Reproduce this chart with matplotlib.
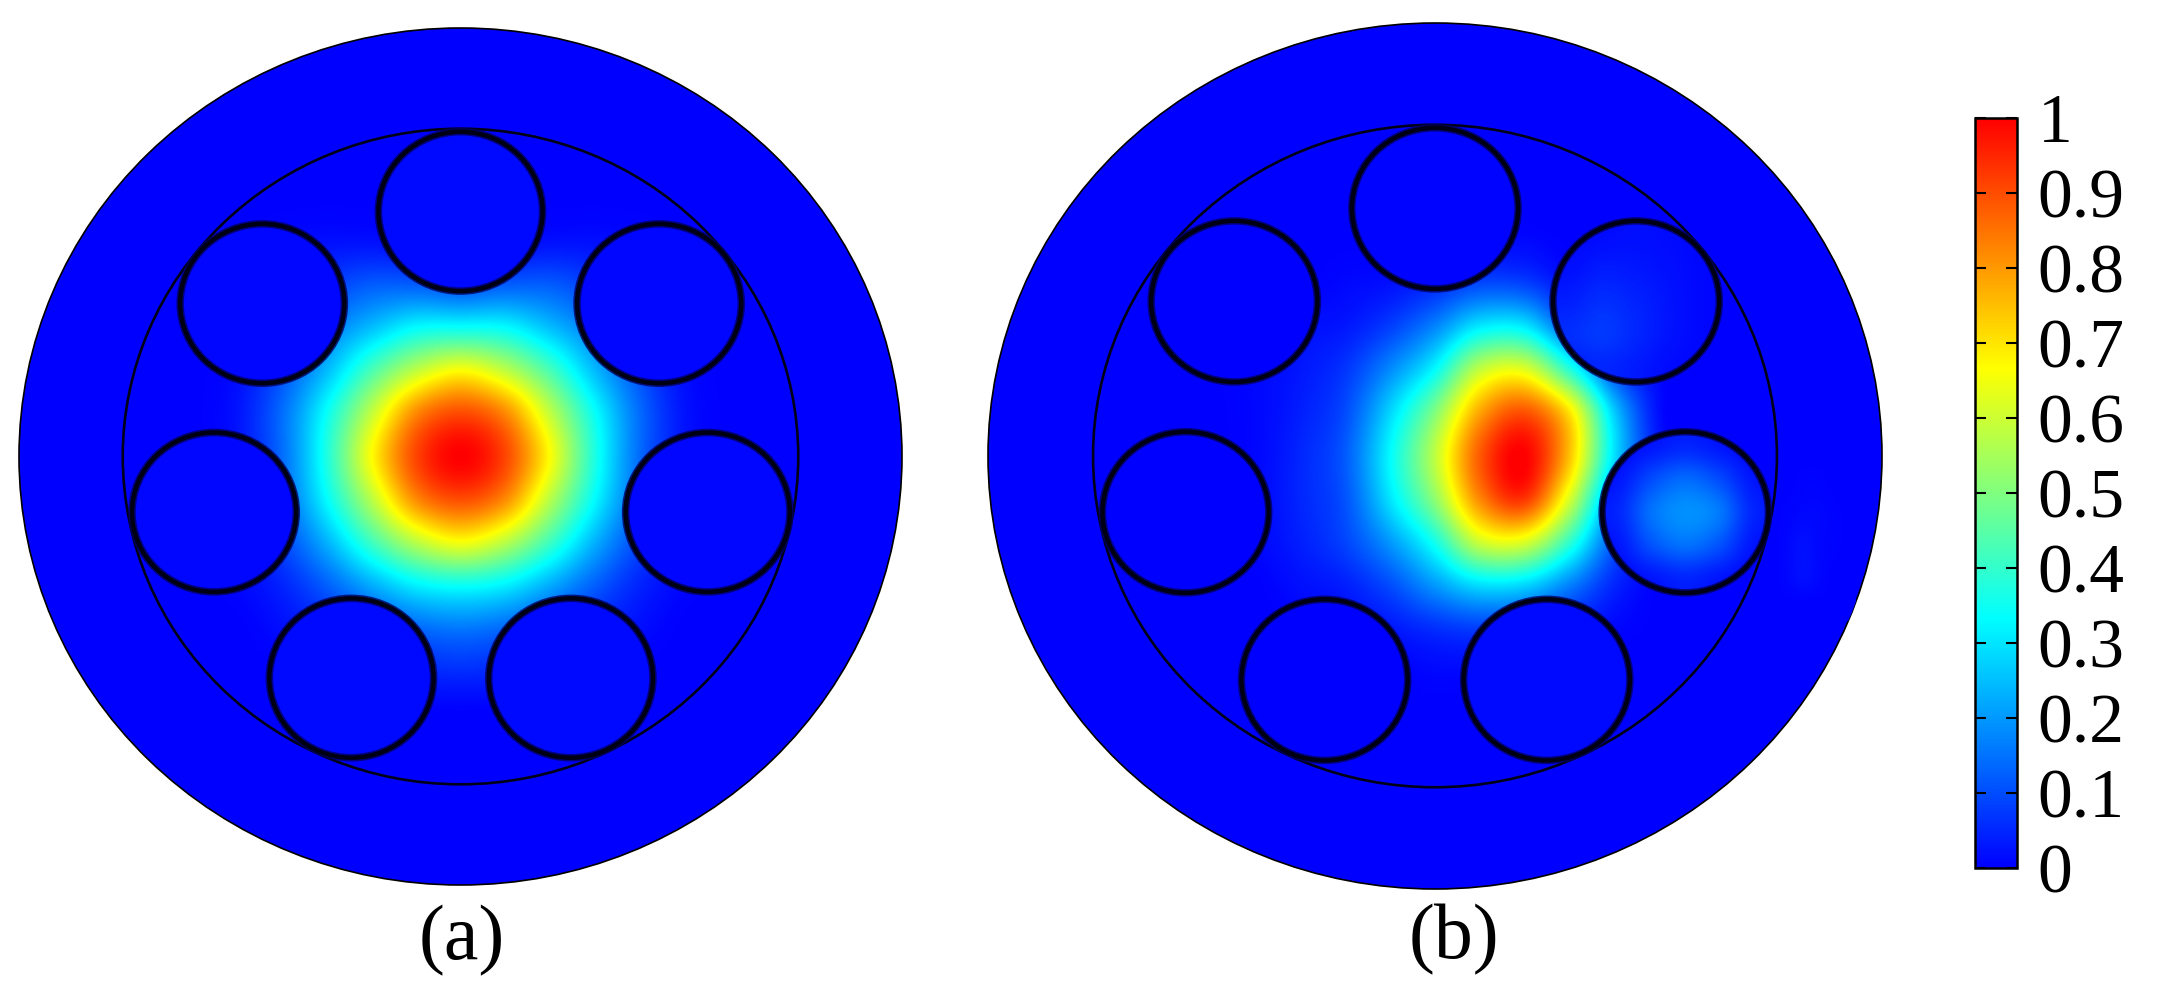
import numpy as np
import matplotlib
matplotlib.use('Agg')
import matplotlib.pyplot as plt
from matplotlib.colors import LinearSegmentedColormap, Normalize
from matplotlib.cm import ScalarMappable
from matplotlib.patches import Circle

plt.rcParams['font.family'] = ['Liberation Serif', 'DejaVu Serif']

W, H = 2169, 985

# fibre geometry, unit = outer radius
hole_x = [0.0, -0.449, 0.450, -0.558, 0.560, -0.247, 0.250]
hole_y = [0.572, 0.357, 0.357, -0.130, -0.130, -0.517, -0.517]
hole_r = 0.186
ring_r = 0.765

# intensity, right half x = 0 .. 0.6, rows y = 0.6 .. -0.6
half_a = np.array([
    [0.00, 0.00, 0.00, 0.00, 0.00, 0.00, 0.00],
    [0.01, 0.01, 0.02, 0.02, 0.01, 0.00, 0.00],
    [0.10, 0.12, 0.12, 0.08, 0.03, 0.00, 0.00],
    [0.34, 0.33, 0.25, 0.16, 0.06, 0.01, 0.00],
    [0.66, 0.58, 0.43, 0.25, 0.11, 0.02, 0.00],
    [0.90, 0.82, 0.59, 0.35, 0.15, 0.03, 0.00],
    [1.00, 0.91, 0.67, 0.38, 0.15, 0.03, 0.00],
    [0.90, 0.82, 0.58, 0.34, 0.14, 0.03, 0.00],
    [0.66, 0.58, 0.42, 0.24, 0.10, 0.02, 0.00],
    [0.35, 0.32, 0.23, 0.13, 0.05, 0.01, 0.00],
    [0.16, 0.14, 0.09, 0.05, 0.02, 0.00, 0.00],
    [0.06, 0.05, 0.03, 0.01, 0.00, 0.00, 0.00],
    [0.00, 0.00, 0.00, 0.00, 0.00, 0.00, 0.00],
])
field_a = np.hstack([half_a[:, :0:-1], half_a])

# intensity, x = -0.5 .. 0.6, rows y = 0.5 .. -0.5
field_b = np.array([
    [0.00, 0.00, 0.00, 0.00, 0.00, 0.01, 0.01, 0.01, 0.00, 0.00, 0.00, 0.00],
    [0.00, 0.00, 0.00, 0.01, 0.02, 0.05, 0.09, 0.08, 0.02, 0.00, 0.00, 0.00],
    [0.00, 0.00, 0.02, 0.03, 0.08, 0.17, 0.30, 0.30, 0.12, 0.02, 0.00, 0.00],
    [0.00, 0.01, 0.03, 0.07, 0.18, 0.33, 0.58, 0.62, 0.38, 0.10, 0.01, 0.00],
    [0.00, 0.01, 0.04, 0.10, 0.28, 0.50, 0.78, 0.89, 0.70, 0.27, 0.02, 0.00],
    [0.00, 0.01, 0.05, 0.12, 0.33, 0.58, 0.88, 1.00, 0.75, 0.30, 0.03, 0.00],
    [0.00, 0.01, 0.05, 0.11, 0.30, 0.52, 0.82, 0.93, 0.62, 0.20, 0.02, 0.00],
    [0.00, 0.01, 0.04, 0.09, 0.20, 0.36, 0.60, 0.62, 0.40, 0.12, 0.01, 0.00],
    [0.00, 0.00, 0.02, 0.04, 0.10, 0.20, 0.29, 0.28, 0.17, 0.05, 0.00, 0.00],
    [0.00, 0.00, 0.00, 0.01, 0.03, 0.06, 0.08, 0.07, 0.04, 0.01, 0.00, 0.00],
    [0.00, 0.00, 0.00, 0.00, 0.00, 0.01, 0.01, 0.01, 0.00, 0.00, 0.00, 0.00],
])

# level inside each hole, same order as hole_x
holes_a = [0.012, 0.008, 0.008, 0.008, 0.008, 0.012, 0.012]
holes_b = [0.005, 0.0, 0.02, 0.0, 0.04, 0.0, 0.012]

# holes of (b) that pick up light, 5x5 over the hole box
hole_right = np.array([
    [0.01, 0.03, 0.05, 0.03, 0.01],
    [0.03, 0.10, 0.14, 0.10, 0.03],
    [0.05, 0.15, 0.19, 0.16, 0.05],
    [0.03, 0.11, 0.15, 0.11, 0.03],
    [0.01, 0.03, 0.05, 0.03, 0.01],
])
hole_upper = np.array([
    [0.01, 0.015, 0.02, 0.015, 0.01],
    [0.02, 0.035, 0.03, 0.02, 0.01],
    [0.04, 0.06, 0.045, 0.025, 0.01],
    [0.06, 0.075, 0.05, 0.025, 0.01],
    [0.04, 0.05, 0.035, 0.015, 0.01],
])

# faint speckle in the cladding right of the ring
leak_b = np.array([
    [0.00, 0.00, 0.00, 0.00, 0.00, 0.00],
    [0.00, 0.00, 0.005, 0.005, 0.00, 0.00],
    [0.00, 0.005, 0.01, 0.01, 0.005, 0.00],
    [0.00, 0.01, 0.02, 0.01, 0.005, 0.00],
    [0.00, 0.01, 0.02, 0.01, 0.00, 0.00],
    [0.00, 0.00, 0.00, 0.00, 0.00, 0.00],
])

cbar_ticks = [0, 0.1, 0.2, 0.3, 0.4, 0.5, 0.6, 0.7, 0.8, 0.9, 1]
cbar_labels = ['0', '0.1', '0.2', '0.3', '0.4', '0.5', '0.6', '0.7', '0.8', '0.9', '1']

cmap = LinearSegmentedColormap.from_list('bcyr', ['#0000ff', '#00ffff', '#ffff00', '#ff0000'], N=512)
norm = Normalize(0, 1)


def pixel_axes(fig, x0, y0, x1, y1):
    return fig.add_axes([x0 / W, 1 - y1 / H, (x1 - x0) / W, (y1 - y0) / H])


def show(ax, grid, extent, clip=None, zorder=2):
    # catrom goes through the grid values, plain bicubic smooths the peak away
    im = ax.imshow(grid, cmap=cmap, norm=norm, extent=extent, aspect='auto',
                   interpolation='catrom', interpolation_stage='data', zorder=zorder)
    if clip is not None:
        im.set_clip_path(clip)


def draw_panel(ax, grid, extent, holes):
    outer = Circle((0, 0), 1, fc=cmap(0.0), ec='black', lw=1.2, zorder=1, clip_on=False)
    ax.add_patch(outer)
    show(ax, grid, extent)
    for x, y, level in zip(hole_x, hole_y, holes):
        ax.add_patch(Circle((x, y), hole_r, fc=cmap(norm(level)), ec='none', zorder=3))
    ax.add_patch(Circle((0, 0), ring_r, fc='none', ec='#000018', lw=1.9, zorder=5))
    for x, y in zip(hole_x, hole_y):
        ax.add_patch(Circle((x, y), hole_r, fc='none', ec='#000060', lw=5.4, alpha=0.8, zorder=6))
        ax.add_patch(Circle((x, y), hole_r, fc='none', ec='#000014', lw=3.2, zorder=7))
    return outer


def hole_field(ax, idx, grid):
    clip = Circle((hole_x[idx], hole_y[idx]), hole_r, transform=ax.transData)
    box = (hole_x[idx] - hole_r, hole_x[idx] + hole_r, hole_y[idx] - hole_r, hole_y[idx] + hole_r)
    show(ax, grid, box, clip, zorder=4)


fig = plt.figure(figsize=(W / 100, H / 100), dpi=100, facecolor='white')

ax_a = pixel_axes(fig, 19, 28, 902, 885)
draw_panel(ax_a, field_a, (-0.65, 0.65, -0.65, 0.65), holes_a)

ax_b = pixel_axes(fig, 988, 23, 1882, 889)
outer_b = draw_panel(ax_b, field_b, (-0.55, 0.65, -0.55, 0.55), holes_b)
hole_field(ax_b, 4, hole_right)
hole_field(ax_b, 2, hole_upper)
show(ax_b, leak_b, (0.74, 0.94, -0.38, 0.04), outer_b)

for ax in (ax_a, ax_b):
    ax.set_xlim(-1, 1)
    ax.set_ylim(-1, 1)
    ax.axis('off')

fig.text(462 / W, 1 - 959 / H, '(a)', fontsize=56, ha='center', va='baseline')
fig.text(1453.5 / W, 1 - 958 / H, '(b)', fontsize=56, ha='center', va='baseline')

cax = pixel_axes(fig, 1975, 118, 2017, 868)
cb = fig.colorbar(ScalarMappable(norm=norm, cmap=cmap), cax=cax)
cb.set_ticks(cbar_ticks, labels=cbar_labels)
cb.ax.tick_params(axis='y', which='major', direction='in', left=True, right=True,
                  length=8, width=1.5, pad=15, labelsize=50, colors='black')
cb.ax.minorticks_off()
cb.outline.set_linewidth(1.8)

fig.savefig('out.png', dpi=100)
